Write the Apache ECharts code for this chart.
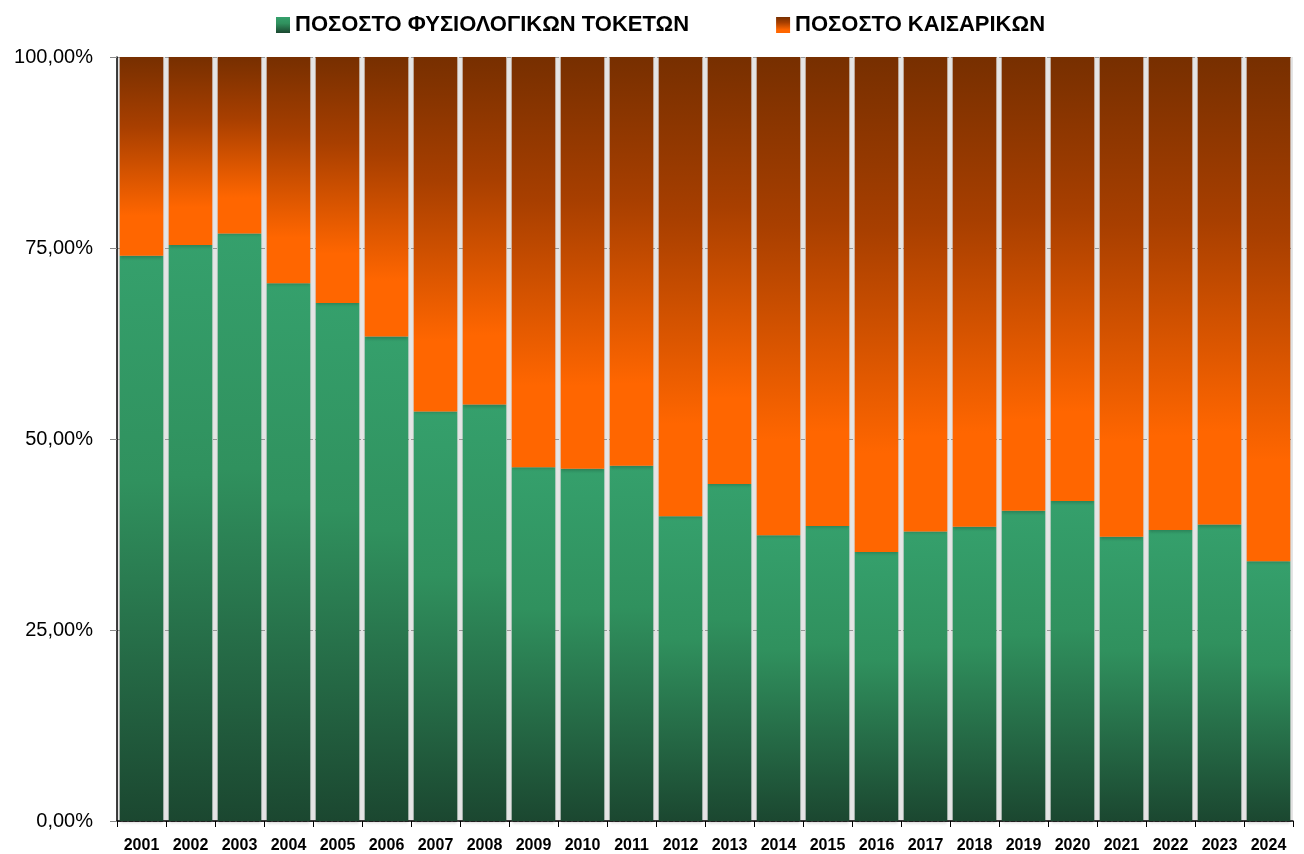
<!DOCTYPE html>
<html>
<head>
<meta charset="utf-8">
<script src="https://cdn.jsdelivr.net/npm/echarts@6/dist/echarts.min.js"></script>
<style>html,body{margin:0;padding:0;background:#fff}#c{width:1304px;height:854px}</style>
</head>
<body>
<div id="c"></div>
<script>
const years = ['2001','2002','2003','2004','2005','2006','2007','2008','2009','2010','2011','2012','2013','2014','2015','2016','2017','2018','2019','2020','2021','2022','2023','2024'];
const natural = [74.0, 75.4, 76.9, 70.4, 67.8, 63.4, 53.6, 54.5, 46.3, 46.1, 46.5, 39.9, 44.1, 37.4, 38.6, 35.2, 37.9, 38.5, 40.6, 41.9, 37.2, 38.1, 38.8, 34.0];
const caesarean = [26.0, 24.6, 23.1, 29.6, 32.2, 36.6, 46.4, 45.5, 53.7, 53.9, 53.5, 60.1, 55.9, 62.6, 61.4, 64.8, 62.1, 61.5, 59.4, 58.1, 62.8, 61.9, 61.2, 66.0];
const seriesNames = ['ΠΟΣΟΣΤΟ ΦΥΣΙΟΛΟΓΙΚΩΝ ΤΟΚΕΤΩΝ', 'ΠΟΣΟΣΤΟ ΚΑΙΣΑΡΙΚΩΝ'];

const chart = echarts.init(document.getElementById('c'));
const greenGrad = new echarts.graphic.LinearGradient(0, 0, 0, 1, [
  {offset: 0, color: '#35a06c'},
  {offset: 0.4, color: '#30915e'},
  {offset: 1, color: '#1b4730'}
]);
const orangeGrad = new echarts.graphic.LinearGradient(0, 0, 0, 1, [
  {offset: 0, color: '#772f00'},
  {offset: 0.35, color: '#a83f00'},
  {offset: 0.8, color: '#ff6600'},
  {offset: 1, color: '#ff6600'}
]);
const shadow = {shadowBlur: 3, shadowColor: 'rgba(0,0,0,0.2)', shadowOffsetY: 2};
chart.setOption({
  animation: false,
  legend: {
    top: 9,
    left: 271,
    icon: 'rect',
    itemWidth: 14,
    itemHeight: 16,
    itemGap: 87,
    textStyle: {fontFamily: 'Liberation Sans Narrow, Liberation Sans', fontWeight: 'bold', fontSize: 22, color: '#000'},
    data: seriesNames
  },
  grid: {left: 117, right: 11, top: 57, bottom: 33, show: true, backgroundColor: '#e6e6e6', borderWidth: 0},
  xAxis: {
    type: 'category',
    data: years,
    axisLine: {lineStyle: {color: '#000', width: 1.5}},
    axisTick: {show: true, length: 6, lineStyle: {color: '#000'}},
    axisLabel: {margin: 17, fontFamily: 'Liberation Sans', fontWeight: 'bold', fontSize: 16, color: '#000'}
  },
  yAxis: {
    type: 'value',
    min: 0, max: 100, interval: 25,
    axisLine: {show: true, lineStyle: {color: '#000', width: 1.5}},
    axisTick: {show: true, length: 7, lineStyle: {color: '#888'}},
    splitLine: {show: true, lineStyle: {color: '#999', type: 'dashed'}},
    axisLabel: {margin: 24, fontFamily: 'Liberation Sans', fontSize: 20, color: '#000',
      formatter: v => v.toFixed(2).replace('.', ',') + '%'}
  },
  series: [
    {name: seriesNames[0], type: 'bar', stack: 'a', data: natural, barCategoryGap: '11%',
     itemStyle: Object.assign({color: greenGrad}, shadow)},
    {name: seriesNames[1], type: 'bar', stack: 'a', data: caesarean, barCategoryGap: '11%',
     itemStyle: Object.assign({color: orangeGrad}, shadow)}
  ]
});
</script>
</body>
</html>
